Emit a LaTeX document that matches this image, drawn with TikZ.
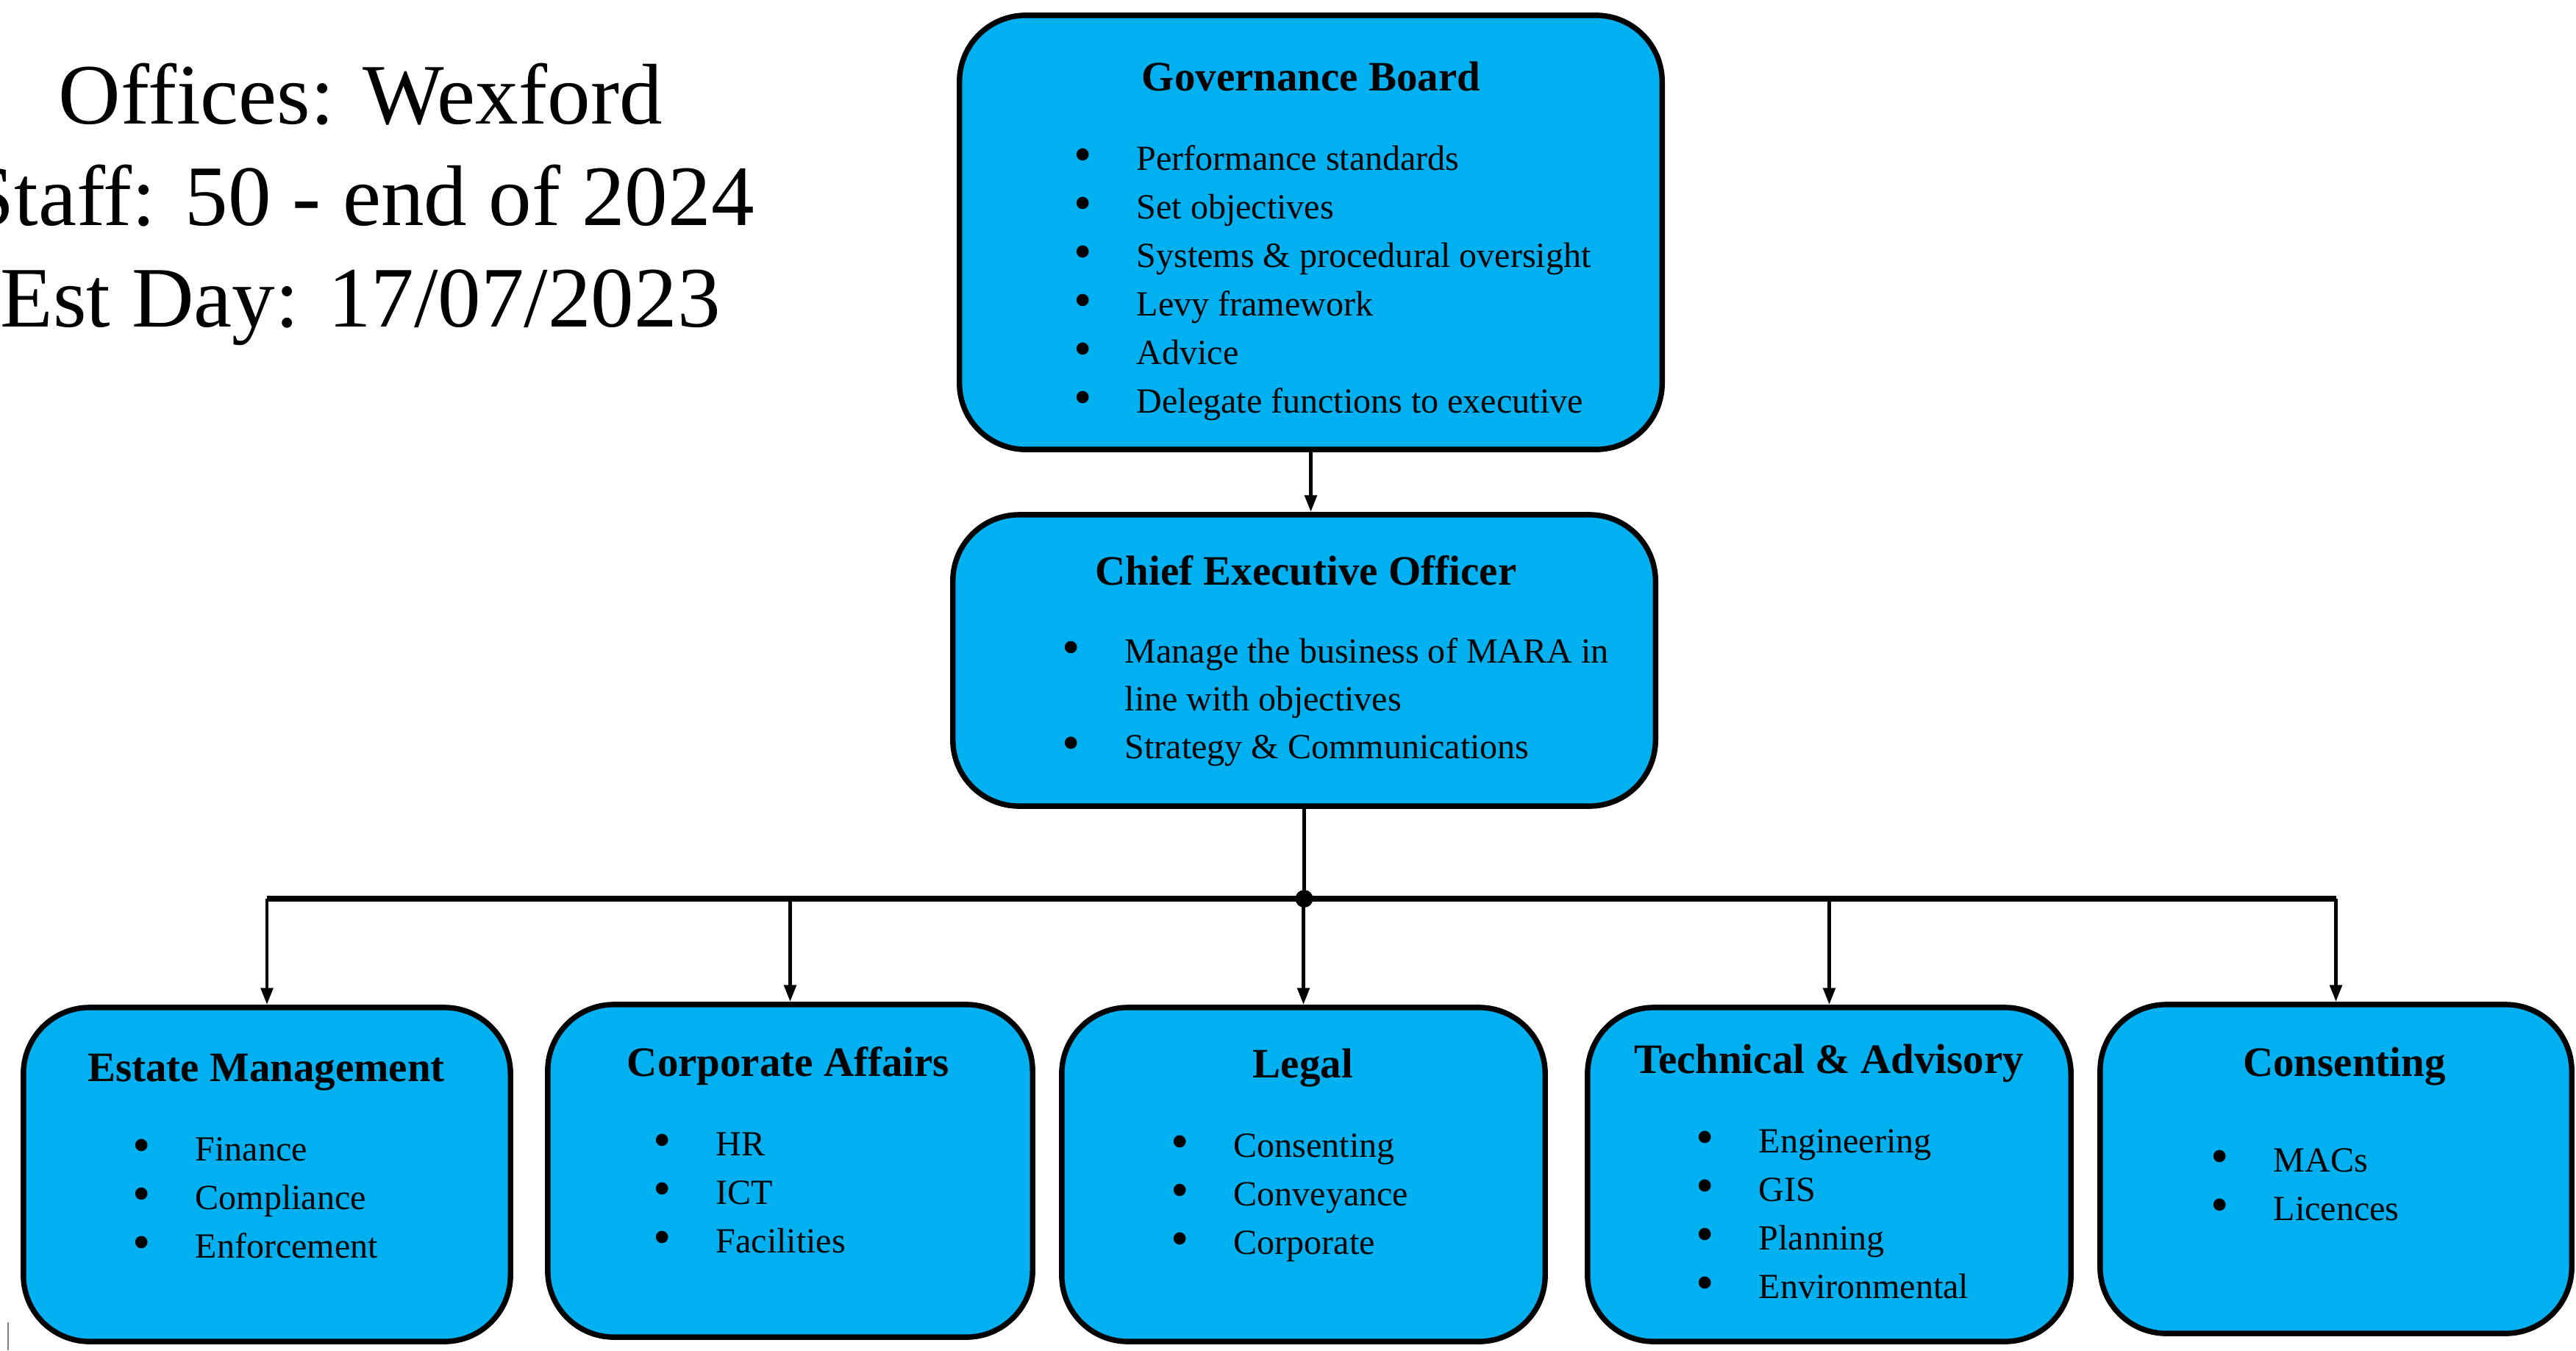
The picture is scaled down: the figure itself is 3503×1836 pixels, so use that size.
\documentclass[tikz,border=0pt]{standalone}
\usepackage{fontspec}
\setmainfont{Liberation Serif}
\usetikzlibrary{arrows.meta}
\definecolor{boxblue}{RGB}{0,176,240}
\newcommand\bul{\makebox[0.85cm][l]{\raisebox{-0.12ex}{\scalebox{1.45}{\textbullet}}}}
\begin{document}
\begin{tikzpicture}[x=0.01cm,y=-0.01cm,
  orgbox/.style={draw=black, line width=2.1pt, fill=boxblue, rounded corners=0.9cm, inner sep=0},
  ttl/.style={font=\fontsize{16.2pt}{19pt}\selectfont\bfseries, inner sep=0, anchor=base},
  itm/.style={font=\fontsize{13.66pt}{18.8pt}\selectfont, inner sep=0, anchor=base west},
  big/.style={font=\fontsize{33.3pt}{40pt}\selectfont, inner sep=0, anchor=base},
  conn/.style={line width=1.4pt},
  arr/.style={line width=1.4pt, -{Triangle[length=6.5pt,width=4.6pt]}},
]
\useasboundingbox (0,0) rectangle (3503,1836);

% info text
\node[big] (info1) at (490,168) {Offices: Wexford};
\node[big] (info2) at (490,306) {Staff: 50 - end of 2024};
\node[big] (info3) at (490,444) {Est Day: 17/07/2023};

% boxes
\node[orgbox, minimum width=9.55cm, minimum height=5.90cm] (gov) at (1782.5,316) {};
\node[orgbox, minimum width=9.55cm, minimum height=3.96cm] (ceo) at (1773.5,898) {};
\node[orgbox, minimum width=6.62cm, minimum height=4.54cm] (estate) at (363,1597) {};
\node[orgbox, minimum width=6.59cm, minimum height=4.52cm] (corp) at (1074.5,1592) {};
\node[orgbox, minimum width=6.57cm, minimum height=4.54cm] (legal) at (1772.5,1597) {};
\node[orgbox, minimum width=6.57cm, minimum height=4.54cm] (tech) at (2487.5,1597) {};
\node[orgbox, minimum width=6.41cm, minimum height=4.47cm] (cons) at (3176.5,1589.5) {};

% Governance Board
\node[ttl] (govt) at (1783,123) {Governance Board};
\foreach \t [count=\i] in {Performance standards, Set objectives, Systems \& procedural oversight, Levy framework, Advice, Delegate functions to executive}
  \node[itm] (gov\i) at (1460,{231+66*(\i-1)}) {\bul\t};

% CEO
\node[ttl] (ceot) at (1776,795) {Chief Executive Officer};
\node[itm] (ceo1) at (1444,901) {\bul Manage the business of MARA in};
\node[itm] (ceo2) at (1444,966) {\hspace*{0.85cm}line with objectives};
\node[itm] (ceo3) at (1444,1031) {\bul Strategy \& Communications};

% Estate Management
\node[ttl] (estatet) at (362,1470) {Estate Management};
\foreach \t [count=\i] in {Finance, Compliance, Enforcement}
  \node[itm] (estate\i) at (180,{1578+66*(\i-1)}) {\bul\t};

% Corporate Affairs
\node[ttl] (corpt) at (1072,1463) {Corporate Affairs};
\foreach \t [count=\i] in {HR, ICT, Facilities}
  \node[itm] (corp\i) at (888,{1571+66*(\i-1)}) {\bul\t};

% Legal
\node[ttl] (legalt) at (1772,1465) {Legal};
\foreach \t [count=\i] in {Consenting, Conveyance, Corporate}
  \node[itm] (legal\i) at (1592,{1573+66*(\i-1)}) {\bul\t};

% Technical & Advisory
\node[ttl] (techt) at (2487,1459) {Technical \& Advisory};
\foreach \t [count=\i] in {Engineering, GIS, Planning, Environmental}
  \node[itm] (tech\i) at (2306,{1567+66*(\i-1)}) {\bul\t};

% Consenting
\node[ttl] (const) at (3188,1463) {Consenting};
\foreach \t [count=\i] in {MACs, Licences}
  \node[itm] (cons\i) at (3006,{1593+66*(\i-1)}) {\bul\t};

% connectors
\draw[arr] (gov.south) -- (gov.south |- ceo.north);
\node[circle, fill=black, inner sep=0, minimum size=0.24cm] (jn) at (1773.5,1222) {};
\draw[conn] (ceo.south) -- (jn.center);
\draw[line width=2.2pt] (estate.north |- jn) -- (cons.north |- jn);
\foreach \b in {estate,corp,legal,tech,cons}
  \draw[arr] (\b.north |- jn) -- (\b.north);

% edge mark
\draw[line width=0.6pt, gray] (11,1798) -- (11,1836);
\end{tikzpicture}
\end{document}
